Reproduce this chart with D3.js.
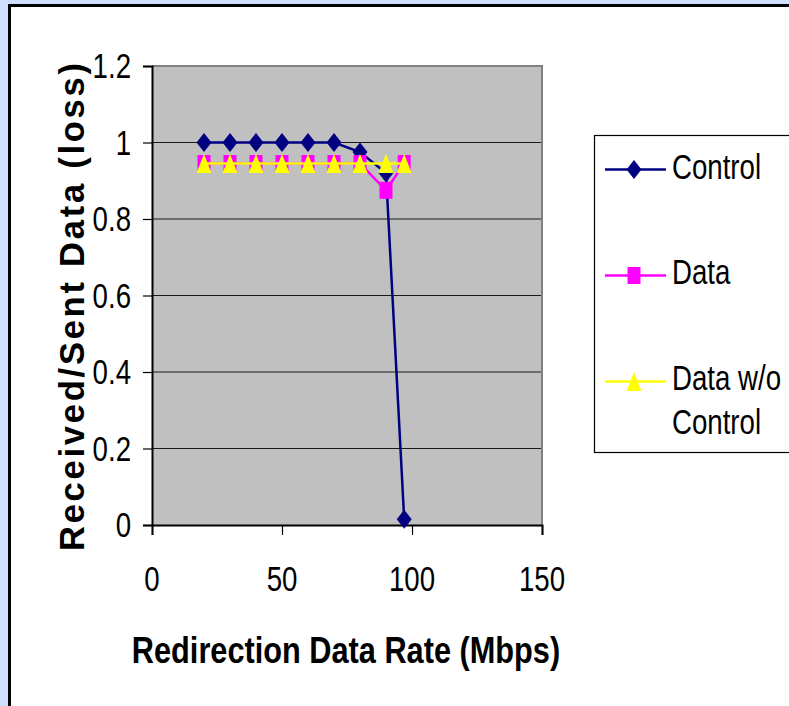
<!DOCTYPE html>
<head>
  <meta charset="utf-8">
  <script src="https://d3js.org/d3.v7.min.js"></script>
  <style>
    body { margin:0; background:#cddffc; overflow:hidden; }
    text { font-family: "Liberation Sans", Arial, sans-serif; fill:#000; }
  </style>
</head>
<body>
<script>
  // values
  var rates = [20, 30, 40, 50, 60, 70, 80, 90, 97];
  var control = [1, 1, 1, 1, 1, 1, 0.975, 0.92, 0.015];
  var dataSeries = [0.945, 0.945, 0.945, 0.945, 0.945, 0.945, 0.945, 0.875, 0.945];
  var noControl = [0.945, 0.945, 0.945, 0.945, 0.945, 0.945, 0.945, 0.945, 0.945];
  var xTicks = [0, 50, 100, 150];
  var yTicks = [0, 0.2, 0.4, 0.6, 0.8, 1, 1.2];
  var seriesNames = ["Control", "Data", "Data w/o"];

  var W = 789, H = 706;
  var plot = {left: 152, right: 542, top: 66, bottom: 525};

  var svg = d3.select("body").append("svg")
      .attr("width", W).attr("height", H);

  // narrow looking text: the original uses a condensed face, squeeze Arial
  function ntext(parent, x, y, str, size, anchor, sx, weight) {
    return parent.append("text")
        .attr("transform", "translate(" + x + "," + y + ") scale(" + sx + ",1)")
        .attr("text-anchor", anchor)
        .attr("font-size", size)
        .attr("font-weight", weight || "normal")
        .text(str);
  }

  // white panel with black border
  svg.append("rect").attr("x", 9.5).attr("y", 5.5).attr("width", W).attr("height", H)
      .attr("fill", "#fff").attr("stroke", "#000").attr("stroke-width", 3);

  var x = d3.scaleLinear().domain([0, 150]).range([plot.left, plot.right]);
  var y = d3.scaleLinear().domain([0, 1.2]).range([plot.bottom, plot.top]);

  svg.append("rect")
      .attr("x", plot.left).attr("y", plot.top)
      .attr("width", plot.right - plot.left).attr("height", plot.bottom - plot.top)
      .attr("fill", "#c0c0c0");

  // gridlines
  svg.append("g").selectAll("line").data(yTicks.filter(function(d) { return d > 0 && d < 1.2; }))
    .enter().append("line")
      .attr("x1", plot.left).attr("x2", plot.right)
      .attr("y1", function(d) { return y(d); }).attr("y2", function(d) { return y(d); })
      .attr("stroke", "#1a1a1a").attr("stroke-width", 1.2);

  // grey frame top / right
  svg.append("path")
      .attr("d", "M" + plot.left + "," + plot.top + "H" + plot.right + "V" + plot.bottom)
      .attr("fill", "none").attr("stroke", "#808080").attr("stroke-width", 2);

  var yAxis = svg.append("g")
      .attr("transform", "translate(" + plot.left + ",0)")
      .call(d3.axisLeft(y).tickValues(yTicks).tickSize(9).tickFormat(""));
  var xAxis = svg.append("g")
      .attr("transform", "translate(0," + plot.bottom + ")")
      .call(d3.axisBottom(x).tickValues(xTicks).tickSize(10).tickFormat(""));

  [yAxis, xAxis].forEach(function(a) {
    a.select(".domain").attr("stroke", "#000").attr("stroke-width", 2);
    a.selectAll(".tick line").attr("stroke", "#000").attr("stroke-width", 1.2);
  });

  // tick labels
  yTicks.forEach(function(d) {
    ntext(svg, 131, y(d) + 12, String(+d.toFixed(1)), 35, "end", 0.79);
  });
  xTicks.forEach(function(d) {
    ntext(svg, x(d), 591, String(d), 35, "middle", 0.79);
  });

  // axis titles
  ntext(svg, 346, 663, "Redirection Data Rate (Mbps)", 37, "middle", 0.83, "bold");

  svg.append("text")
      .attr("transform", "translate(84,307) rotate(-90)")
      .attr("text-anchor", "middle")
      .attr("font-weight", "bold").attr("font-size", 34.5)
      .attr("textLength", 488).attr("lengthAdjust", "spacing")
      .text("Received/Sent Data (loss)");

  // marker shapes
  function diamond(w, h) { return "M0," + (-h) + "L" + w + ",0L0," + h + "L" + (-w) + ",0Z"; }
  function square(w, h) { return "M" + (-w) + "," + (-h) + "H" + w + "V" + h + "H" + (-w) + "Z"; }
  function triangle(w, h) { return "M0," + (-h) + "L" + w + "," + h + "H" + (-w) + "Z"; }

  var series = [
    {name: seriesNames[0], values: control, color: "#000080", shape: diamond(7.5, 9.5)},
    {name: seriesNames[1], values: dataSeries, color: "#ff00ff", shape: square(6.5, 8.5)},
    {name: seriesNames[2], values: noControl, color: "#ffff00", shape: triangle(7.5, 9.5)}
  ];

  var line = d3.line()
      .x(function(d) { return x(d[0]); })
      .y(function(d) { return y(d[1]); });

  series.forEach(function(s) {
    var pts = rates.map(function(r, i) { return [r, s.values[i]]; });
    svg.append("path").datum(pts)
        .attr("d", line)
        .attr("fill", "none").attr("stroke", s.color).attr("stroke-width", 2.5);
    svg.append("g").selectAll("path").data(pts).enter().append("path")
        .attr("transform", function(d) { return "translate(" + x(d[0]) + "," + y(d[1]) + ")"; })
        .attr("d", s.shape)
        .attr("fill", s.color);
  });

  // legend
  var lg = svg.append("g");
  lg.append("rect").attr("x", 594.5).attr("y", 135.5).attr("width", 240).attr("height", 317)
      .attr("fill", "#fff").attr("stroke", "#000").attr("stroke-width", 1.2);
  var legendY = [169.5, 275.5, 381.5];
  var legendBase = [179, 284, 390];
  series.forEach(function(s, i) {
    lg.append("line").attr("x1", 605).attr("x2", 666)
        .attr("y1", legendY[i]).attr("y2", legendY[i])
        .attr("stroke", s.color).attr("stroke-width", 2.5);
    lg.append("path").attr("transform", "translate(634," + legendY[i] + ")")
        .attr("d", s.shape).attr("fill", s.color);
    ntext(lg, 672, legendBase[i], s.name, 35, "start", 0.79);
  });
  ntext(lg, 672, 434, "Control", 35, "start", 0.79);
</script>
</body>
